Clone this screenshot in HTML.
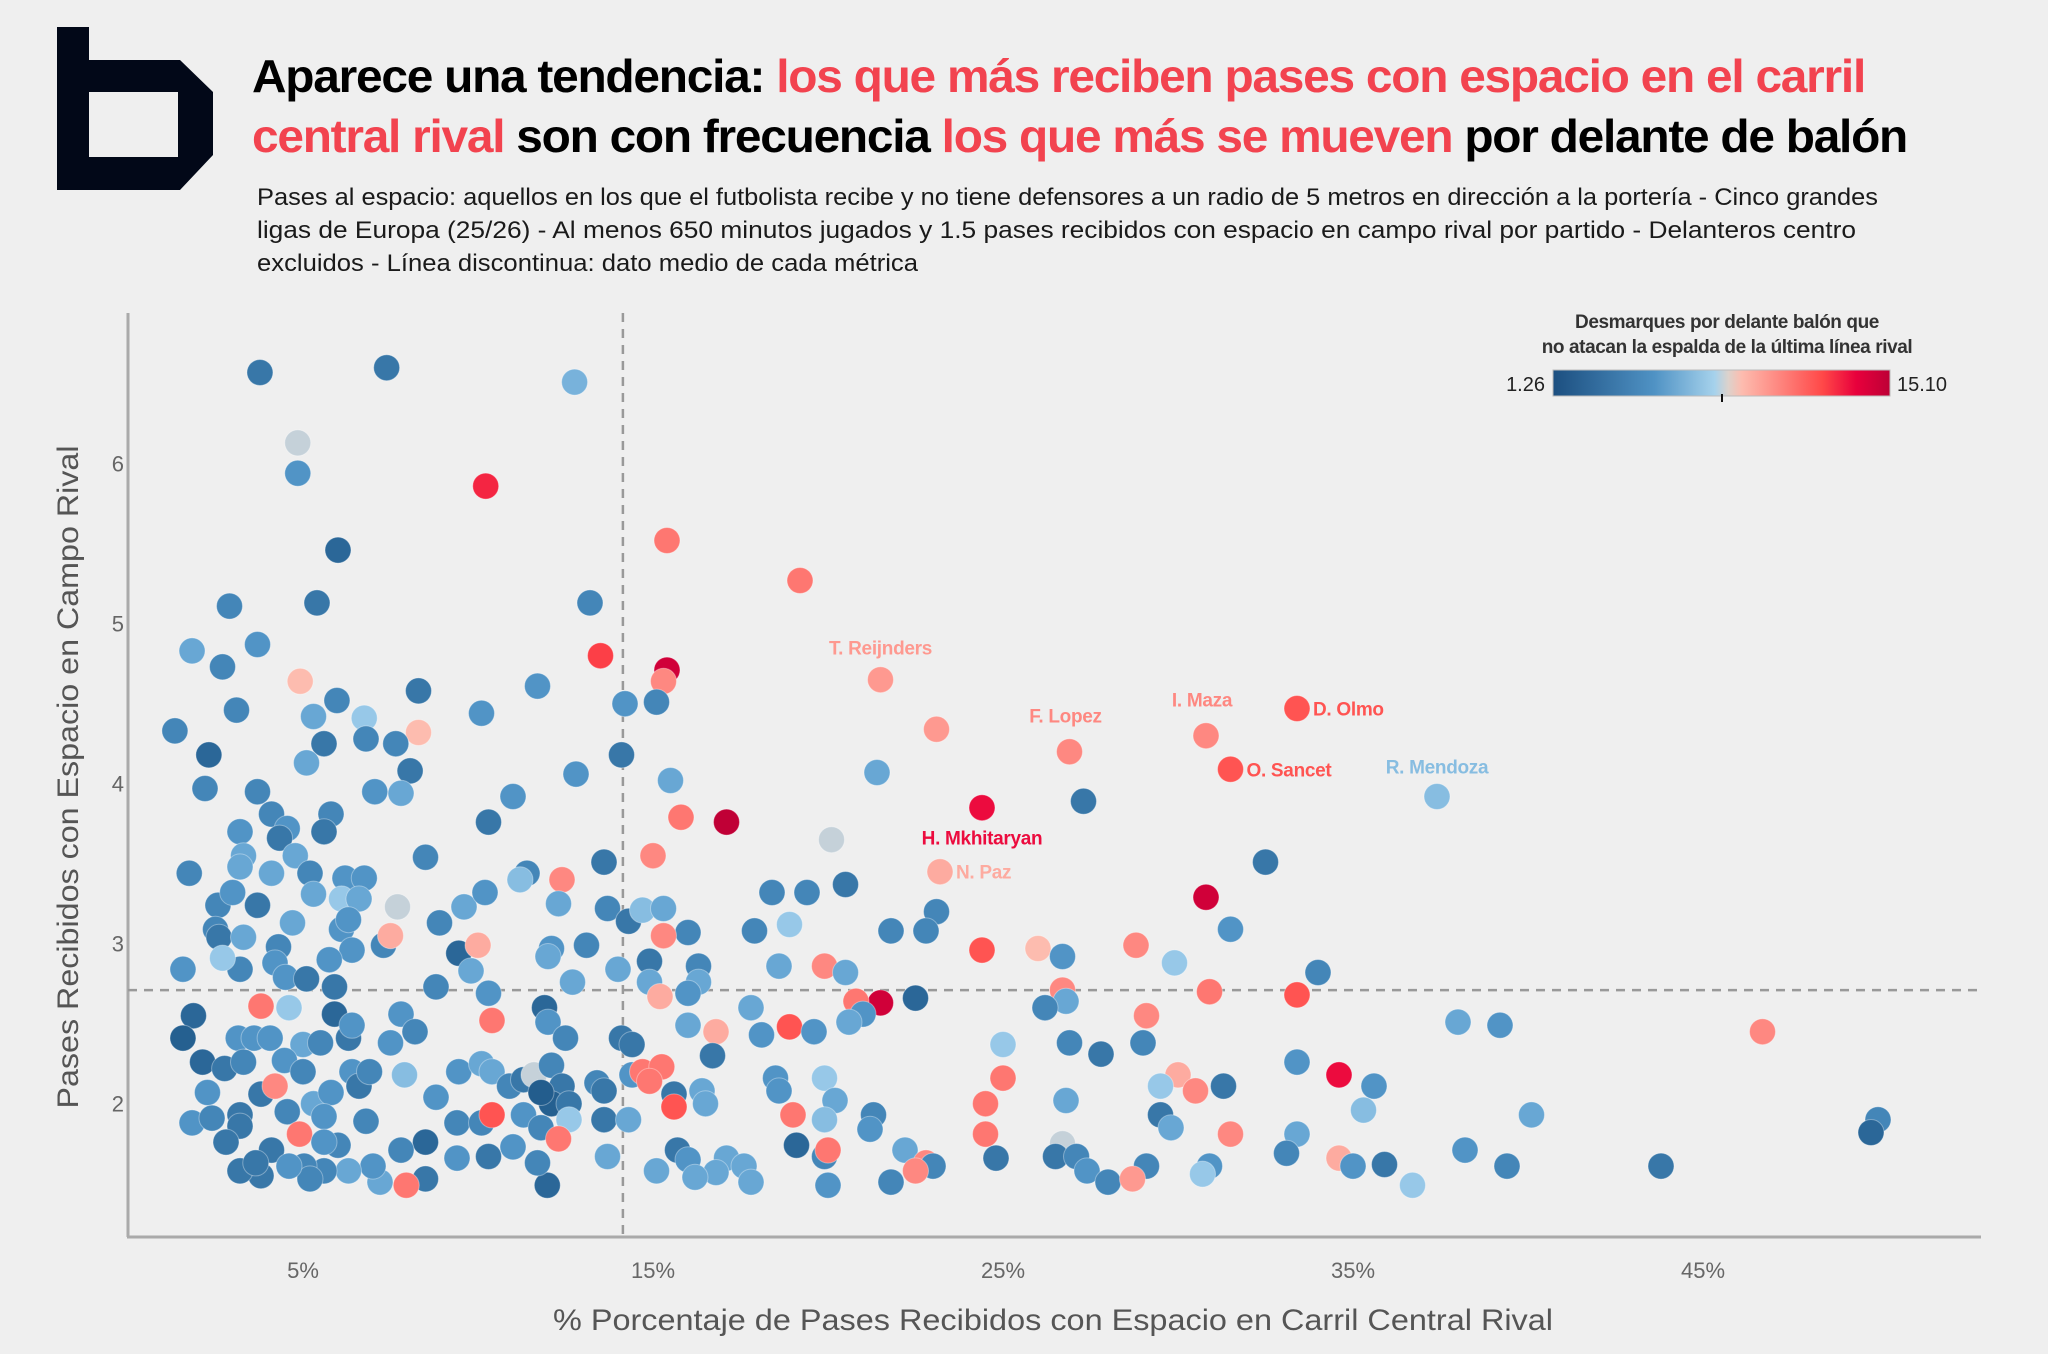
<!DOCTYPE html>
<html><head><meta charset="utf-8">
<style>
html,body{margin:0;padding:0;background:#efefef;}
svg{display:block;font-family:"Liberation Sans",Arial,sans-serif;}
</style></head>
<body>
<svg id="chart" width="2048" height="1354" viewBox="0 0 2048 1354" xmlns="http://www.w3.org/2000/svg">
<rect width="2048" height="1354" fill="#efefef"/>
<path fill="#020818" fill-rule="evenodd" d="M57 27 H89 V60 H180 L213 92 V155 L180 190 H57 Z M89 92 V157 H178 V92 Z"/>
<g font-weight="bold" font-size="46" letter-spacing="-1.2">
<text x="252" y="92" textLength="1613" lengthAdjust="spacingAndGlyphs"><tspan fill="#000">Aparece una tendencia: </tspan><tspan fill="#f2434f">los que más reciben pases con espacio en el carril</tspan></text>
<text x="252" y="152" textLength="1655" lengthAdjust="spacingAndGlyphs"><tspan fill="#f2434f">central rival</tspan><tspan fill="#000"> son con frecuencia </tspan><tspan fill="#f2434f">los que más se mueven</tspan><tspan fill="#000"> por delante de balón</tspan></text>
</g>
<g font-size="24" fill="#1a1a1a">
<text x="257" y="205" textLength="1621" lengthAdjust="spacingAndGlyphs">Pases al espacio: aquellos en los que el futbolista recibe y no tiene defensores a un radio de 5 metros en dirección a la portería - Cinco grandes</text>
<text x="257" y="238" textLength="1599" lengthAdjust="spacingAndGlyphs">ligas de Europa (25/26) - Al menos 650 minutos jugados y 1.5 pases recibidos con espacio en campo rival por partido - Delanteros centro</text>
<text x="257" y="271" textLength="661" lengthAdjust="spacingAndGlyphs">excluidos - Línea discontinua: dato medio de cada métrica</text>
</g>
<g>
<text x="1727" y="328" text-anchor="middle" font-size="19" font-weight="bold" fill="#333" letter-spacing="-0.4">Desmarques por delante balón que</text>
<text x="1727" y="353" text-anchor="middle" font-size="19" font-weight="bold" fill="#333" letter-spacing="-0.4">no atacan la espalda de la última línea rival</text>
<defs><linearGradient id="lg" x1="0" x2="1" y1="0" y2="0">
<stop offset="0" stop-color="#1c4f80"/><stop offset="0.3" stop-color="#4f92c4"/><stop offset="0.48" stop-color="#a6d2ec"/><stop offset="0.52" stop-color="#dcd2cc"/><stop offset="0.56" stop-color="#fdbcaf"/><stop offset="0.8" stop-color="#ff4848"/><stop offset="0.9" stop-color="#e8003c"/><stop offset="1" stop-color="#bd0036"/></linearGradient></defs>
<rect x="1553" y="370" width="337" height="26" fill="url(#lg)" stroke="#bbb" stroke-width="1"/>
<line x1="1722" y1="394" x2="1722" y2="402" stroke="#111" stroke-width="2"/>
<text x="1545" y="391" text-anchor="end" font-size="20" fill="#222">1.26</text>
<text x="1897" y="391" font-size="20" fill="#222">15.10</text>
</g>
<g id="plot"></g>
</svg>
<script>
const xTickValues = [5, 15, 25, 35, 45];
const xTickLabels = ["5%", "15%", "25%", "35%", "45%"];
const yTickValues = [2, 3, 4, 5, 6];
const yTickLabels = ["2", "3", "4", "5", "6"];
const meanX = 14.14;
const meanY = 2.71;
const colorMin = 1.26, colorMax = 15.10;
// [pct central, passes received, desmarques]
const pointsTop = [[3.77,6.57,3],[7.39,6.60,3],[12.76,6.51,6.5],[4.85,6.13,8],[4.85,5.94,5],[10.22,5.86,13],[6.0,5.46,2],[15.4,5.52,11],[19.2,5.27,11],[2.9,5.11,4],[5.4,5.13,3],[13.2,5.13,4],[1.83,4.83,6],[3.7,4.87,5],[2.7,4.73,4],[4.92,4.64,9],[13.5,4.80,12.5],[15.4,4.71,14.5],[15.3,4.64,10.5],[21.5,4.65,10],[3.1,4.46,4],[5.97,4.52,4],[8.3,4.58,3],[10.1,4.44,5],[11.7,4.61,5],[6.75,4.41,7.5],[8.3,4.32,9],[14.2,4.50,5],[15.1,4.51,4],[1.34,4.33,4],[2.31,4.18,2],[5.3,4.42,6],[5.6,4.25,3],[5.1,4.13,6],[6.8,4.28,4],[7.65,4.25,4],[8.06,4.08,3],[7.8,3.94,6],[7.05,3.95,5],[14.1,4.18,3],[12.8,4.06,5],[15.5,4.02,6],[23.1,4.34,10],[26.9,4.20,10.5],[30.8,4.30,10.5],[33.4,4.47,12],[31.5,4.09,12],[21.4,4.07,6],[27.3,3.89,3],[37.4,3.92,7]];
const pointsUpperMid = [[2.2,3.97,4],[3.7,3.95,4],[4.1,3.81,4],[5.8,3.81,4],[4.55,3.72,5],[5.6,3.70,3],[3.2,3.70,5],[4.33,3.66,3],[11.0,3.92,5],[10.3,3.76,3],[15.8,3.79,11],[17.1,3.76,15],[24.4,3.85,13.5],[20.1,3.65,8],[15.0,3.55,10.5],[3.3,3.55,6],[4.78,3.55,6],[8.5,3.54,4],[1.75,3.44,4],[3.2,3.48,6],[4.1,3.44,6],[5.2,3.44,4],[6.2,3.41,5],[6.75,3.41,5],[11.4,3.44,4],[13.6,3.51,3],[12.4,3.40,10.5],[23.2,3.45,9.5],[32.5,3.51,3],[20.5,3.37,3],[18.4,3.32,4],[19.4,3.32,4],[2.57,3.24,4],[2.99,3.32,5],[3.7,3.24,3],[5.3,3.31,6],[6.1,3.28,7.5],[6.6,3.28,6],[7.7,3.23,8],[9.6,3.23,6],[10.2,3.32,5],[11.2,3.40,7],[12.3,3.25,6],[13.7,3.22,4],[14.3,3.14,3],[14.7,3.21,7],[15.3,3.22,6],[23.1,3.20,4],[30.8,3.29,14.5],[21.8,3.08,4],[22.8,3.08,4],[17.9,3.08,4],[18.9,3.12,7.5],[31.5,3.09,5]];
const pointsMid = [[2.5,3.09,4],[2.6,3.04,3],[1.57,2.84,5],[3.3,3.04,6],[4.3,2.98,4],[4.7,3.13,6],[6.1,3.09,5],[6.3,3.15,5],[6.4,2.96,5],[7.3,2.99,4],[7.5,3.05,9.5],[8.9,3.13,4],[9.45,2.94,2],[10.0,2.99,9.5],[12.1,2.97,5],[13.1,2.99,4],[16.0,3.07,4],[15.3,3.05,10.5],[3.2,2.84,4],[4.2,2.88,5],[4.5,2.79,5],[5.1,2.78,3],[5.75,2.90,5],[5.9,2.73,3],[2.7,2.91,7.5],[8.8,2.73,4],[9.8,2.83,6],[10.3,2.69,5],[12.0,2.92,6],[12.7,2.76,6],[14.0,2.84,6],[14.9,2.89,3],[14.9,2.76,6],[16.3,2.86,4],[16.3,2.76,6],[18.6,2.86,6],[19.9,2.86,10.5],[20.5,2.82,6],[26.0,2.97,9],[26.7,2.92,5],[28.8,2.99,10.5],[29.9,2.88,7.5],[24.4,2.96,12],[34.0,2.82,4],[26.7,2.71,10.5],[30.9,2.70,11],[33.4,2.68,12],[26.8,2.64,6],[26.2,2.60,4],[22.5,2.66,2]];
const pointsLowerMid = [[21.5,2.63,14.5],[20.8,2.64,11],[21.0,2.56,5],[20.6,2.51,6],[15.2,2.67,9.5],[16.0,2.69,5],[16.0,2.49,6],[16.8,2.45,9.5],[16.7,2.30,3],[17.8,2.60,6],[18.1,2.43,5],[18.9,2.48,12],[19.6,2.45,5],[1.87,2.55,2],[1.57,2.41,1.5],[2.13,2.26,2],[3.8,2.61,11],[3.15,2.41,5],[3.6,2.41,5],[4.06,2.41,5],[4.6,2.60,7.5],[5.0,2.37,6],[5.5,2.38,4],[5.9,2.56,2],[6.3,2.41,3],[6.4,2.49,5],[7.5,2.38,5],[7.8,2.56,5],[8.2,2.45,4],[10.4,2.52,11],[11.9,2.60,2],[12.0,2.51,5],[12.5,2.41,4],[14.1,2.41,3],[14.4,2.37,3],[25.0,2.37,7.5],[26.9,2.38,4],[29.0,2.38,4],[27.8,2.31,3],[29.1,2.55,10.5],[38.0,2.51,6],[39.2,2.49,5],[46.7,2.45,10.5],[34.6,2.18,13.5],[33.4,2.26,5],[35.6,2.11,5],[31.3,2.11,3],[30.0,2.18,9.5],[30.5,2.08,10.5],[29.5,2.11,7.5]];
const pointsLow = [[25.0,2.16,11],[24.5,2.00,11],[26.8,2.02,6],[2.27,2.07,5],[2.76,2.22,3],[3.3,2.26,4],[3.8,2.06,3],[4.2,2.11,10.5],[4.47,2.27,5],[5.0,2.20,4],[5.3,2.00,6],[5.8,2.07,5],[6.4,2.20,5],[6.6,2.11,3],[6.9,2.20,4],[7.9,2.18,7],[9.45,2.20,5],[10.1,2.25,6],[10.4,2.20,6],[10.9,2.11,4],[11.3,2.15,3],[11.6,2.18,8],[12.1,2.24,4],[12.4,2.11,3],[12.1,2.00,1.5],[11.8,2.07,1.3],[12.6,2.00,3],[13.4,2.13,4],[13.6,2.08,3],[14.4,2.18,5],[14.7,2.20,11],[15.25,2.23,11],[14.9,2.14,11],[15.6,2.06,3],[16.4,2.08,6],[16.5,2.00,6],[15.6,1.98,12],[18.5,2.16,5],[18.6,2.08,5],[19.9,2.16,7.5],[20.2,2.02,6],[1.83,1.88,5],[2.4,1.91,4],[3.2,1.93,3],[3.2,1.86,3],[4.55,1.95,4],[4.9,1.81,11],[5.6,1.92,5],[6.8,1.89,4],[8.8,2.04,5]];
const pointsBottom = [[9.4,1.88,4],[10.1,1.88,4],[10.4,1.93,12],[11.3,1.93,5],[11.8,1.85,4],[12.6,1.90,7.5],[13.6,1.90,3],[14.3,1.90,6],[19.0,1.93,11],[19.9,1.90,7],[21.3,1.93,4],[21.2,1.84,5],[29.5,1.93,3],[29.8,1.85,6],[31.5,1.81,10.5],[33.4,1.81,6],[35.3,1.96,7],[40.1,1.93,6],[50.0,1.90,4],[49.8,1.82,2],[24.5,1.81,11],[26.7,1.75,8],[8.5,1.76,2],[6.0,1.74,4],[5.6,1.76,5],[4.1,1.71,3],[2.8,1.76,3],[7.8,1.71,4],[11.0,1.73,5],[12.3,1.78,11],[13.7,1.67,6],[15.7,1.71,3],[16.0,1.65,5],[17.1,1.66,6],[17.6,1.61,6],[19.1,1.74,2],[19.9,1.67,4],[20.0,1.71,11],[22.2,1.71,6],[22.8,1.63,10.5],[23.0,1.61,4],[22.5,1.58,10.5],[24.8,1.66,3],[26.5,1.67,3],[27.1,1.67,4],[27.4,1.58,5],[28.0,1.51,4],[29.1,1.61,4],[28.7,1.53,10],[30.9,1.61,5]];
const pointsFloor = [[30.7,1.56,7.5],[33.1,1.69,4],[34.6,1.66,9.5],[35.0,1.61,5],[35.9,1.62,3],[36.7,1.49,7.5],[38.2,1.71,5],[39.4,1.61,4],[43.8,1.61,3],[21.8,1.51,4],[20.0,1.49,5],[17.8,1.51,6],[16.8,1.57,6],[15.1,1.58,6],[16.2,1.54,6],[11.98,1.49,2],[11.7,1.63,4],[10.3,1.67,3],[9.4,1.66,5],[8.5,1.53,3],[7.95,1.49,11],[7.2,1.51,6],[7.0,1.61,5],[6.3,1.58,6],[5.6,1.58,4],[5.03,1.61,4],[5.2,1.53,4],[4.6,1.61,5],[3.8,1.55,3],[3.2,1.58,3],[3.65,1.63,3]];
const playerNames = ["T. Reijnders","F. Lopez","I. Maza","D. Olmo","O. Sancet","H. Mkhitaryan","N. Paz","R. Mendoza"];
const playerX = [21.5, 26.9, 30.8, 33.4, 31.5, 24.4, 23.2, 37.4];
const playerY = [4.65, 4.20, 4.30, 4.47, 4.09, 3.85, 3.45, 3.92];
const playerC = [10, 10.5, 10.5, 12, 12, 13.5, 9.5, 7];

const NS = "http://www.w3.org/2000/svg";
const X0 = 128, XS = 35.0, Y6 = 463.7, YS = 160;
function xScale(v){ return X0 + v * XS; }
function yScale(v){ return Y6 + (6 - v) * YS; }
const stops = [[0,[34,92,140]],[0.15,[60,124,174]],[0.3,[86,154,204]],[0.45,[150,200,232]],[0.5,[214,212,212]],[0.56,[253,188,175]],[0.8,[255,72,72]],[0.9,[232,0,60]],[1,[189,0,54]]];
function colorScale(c){
  let t = Math.max(0, Math.min(1, (c - colorMin) / (colorMax - colorMin)));
  for (let i = 1; i < stops.length; i++) {
    if (t <= stops[i][0]) {
      const a = stops[i-1], b = stops[i], f = (t - a[0]) / (b[0] - a[0]);
      const r = a[1].map((v, k) => Math.round(v + (b[1][k] - v) * f));
      return "rgb(" + r.join(",") + ")";
    }
  }
  return "rgb(189,0,54)";
}
function mk(tag, attrs, parent){
  const e = document.createElementNS(NS, tag);
  for (const k in attrs) e.setAttribute(k, attrs[k]);
  parent.appendChild(e);
  return e;
}
const plot = document.getElementById("plot");
const yAxis = mk("line", {x1: X0, y1: 313, x2: X0, y2: 1237, stroke: "#aaa", "stroke-width": 3}, plot);


const xAxis = mk("line", {x1: X0 - 1, y1: 1237, x2: 1981, y2: 1237, stroke: "#aaa", "stroke-width": 3}, plot);


xTickValues.forEach((v, i) => {
  const t = mk("text", {x: xScale(v), y: 1278, "text-anchor": "middle", "font-size": 22, fill: "#666"}, plot);
  t.textContent = xTickLabels[i];
  
  
});
yTickValues.forEach((v, i) => {
  const t = mk("text", {x: 124, y: yScale(v) + 8, "text-anchor": "end", "font-size": 22, fill: "#666"}, plot);
  t.textContent = yTickLabels[i];
  
  
});
const xt = mk("text", {x: 1053, y: 1330, "text-anchor": "middle", "font-size": 30, fill: "#555", textLength: 1000, lengthAdjust: "spacingAndGlyphs"}, plot);
xt.textContent = "% Porcentaje de Pases Recibidos con Espacio en Carril Central  Rival";


const yt = mk("text", {x: 0, y: 0, "text-anchor": "middle", "font-size": 30, fill: "#555", textLength: 663, lengthAdjust: "spacingAndGlyphs", transform: "translate(78,777) rotate(-90)"}, plot);
yt.textContent = "Pases Recibidos con Espacio en Campo Rival";


const mv = mk("line", {x1: xScale(meanX), y1: 313, x2: xScale(meanX), y2: 1237, stroke: "#999", "stroke-width": 2.5, "stroke-dasharray": "9,7"}, plot);


const mh = mk("line", {x1: X0, y1: yScale(meanY), x2: 1981, y2: yScale(meanY), stroke: "#999", "stroke-width": 2.5, "stroke-dasharray": "9,7"}, plot);


const allPoints = [].concat(pointsTop, pointsUpperMid, pointsMid, pointsLowerMid, pointsLow, pointsBottom, pointsFloor);
const dots = mk("g", {}, plot);


allPoints.forEach(p => {
  const c = mk("circle", {cx: xScale(p[0]), cy: yScale(p[1]), r: 13, fill: colorScale(p[2]), stroke: "rgba(255,255,255,0.35)", "stroke-width": 1}, dots);
  
  
});
const labelDx = [0, -4, -4, 16, 16, 0, 16, 0];
const labelDy = [-32, -36, -36, 0, 0, 30, 0, -30];
const labelAnchor = ["middle","middle","middle","start","start","middle","start","middle"];
playerNames.forEach((n, i) => {
  const t = mk("text", {x: xScale(playerX[i]) + labelDx[i], y: yScale(playerY[i]) + labelDy[i] + 7, "text-anchor": labelAnchor[i], "font-size": 19, "font-weight": "bold", fill: colorScale(playerC[i]), "letter-spacing": "-0.3"}, plot);
  t.textContent = n;
  
  
});
</script>
</body></html>
